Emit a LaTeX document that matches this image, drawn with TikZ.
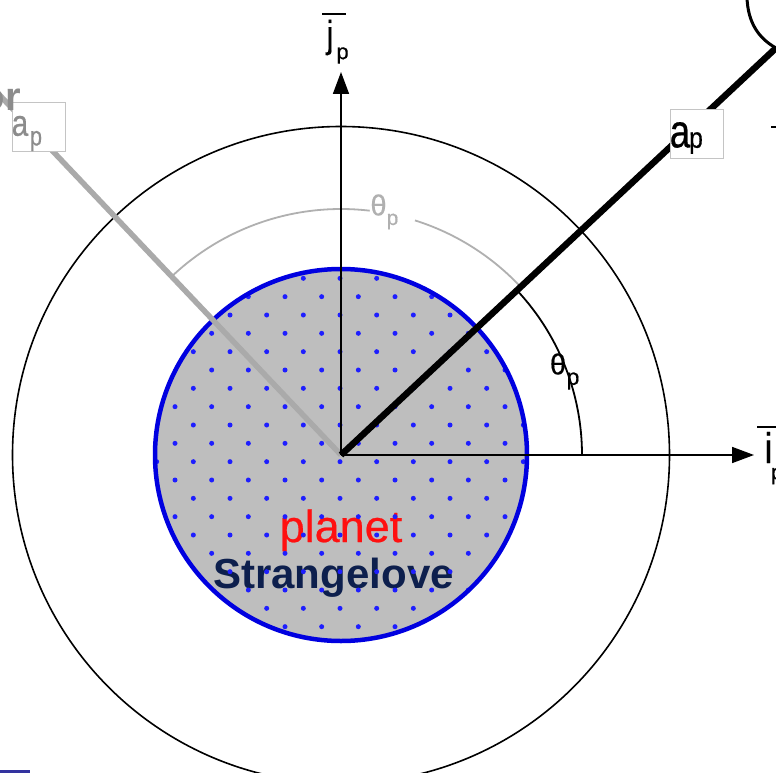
\documentclass[tikz,border=0pt]{standalone}
\usepackage{fontspec}
\setmainfont{Liberation Sans}
\newfontfamily\heavy{Liberation Sans}[FakeBold=0.5]
\usetikzlibrary{arrows.meta}
\definecolor{planetgray}{HTML}{BEBEBE}
\definecolor{dotblue}{HTML}{1E1EFF}
\definecolor{rimblue}{HTML}{0000E0}
\definecolor{planetred}{HTML}{FF1010}
\definecolor{navy}{HTML}{0D1F4D}
\definecolor{lightline}{HTML}{AAAAAA}
\definecolor{arcgray}{HTML}{B0B0B0}
\definecolor{boxgray}{HTML}{C4C4C4}
\definecolor{labelgray}{HTML}{8C8C8C}
\definecolor{barblue}{HTML}{33339F}
\newcommand\fs[1]{\fontsize{#1}{#1}\selectfont}
\begin{document}
\begin{tikzpicture}[x=1pt,y=-1pt,
  glyph/.style={inner sep=0pt, outer sep=0pt, anchor=center},
  labelbox/.style={draw=boxgray, fill=white, line width=0.8pt, minimum width=53pt, minimum height=49pt, inner sep=0pt},
  axisline/.style={line width=1.7pt, -{Triangle[length=22pt,width=16pt]}},
  thinbar/.style={line width=1.8pt}]
\useasboundingbox (0,0) rectangle (776,773);
\clip (0,0) rectangle (776,773);
\fill[white] (0,0) rectangle (776,773);
\coordinate (O) at (341,455);
% outer orbit
\draw[line width=1.6pt] (O) circle (328.5pt);
% planet body
\fill[planetgray] (O) circle (186pt);
\node[anchor=base, inner sep=0pt, text=planetred, font=\heavy\fs{45}] (planet) at (341,542) {planet};
\node[anchor=base, inner sep=0pt, text=navy, font=\fs{42}\bfseries] (strange) at (333.5,588) {Strangelove};
\begin{scope}
  \clip (O) circle (185pt);
  \foreach \m in {-6,...,6}{\foreach \n in {-6,...,6}{
    \fill[dotblue] ({340+36.667*\m},{461.667+36.667*\n}) circle (2.5pt);
    \fill[dotblue] ({358.333+36.667*\m},{480+36.667*\n}) circle (2.5pt);
  }}
\end{scope}
\draw[rimblue, line width=4.5pt] (O) circle (186pt);
% angle arcs
\draw[arcgray, line width=1.8pt] (O) ++(-43:246) arc[start angle=-43, end angle=-72.5, radius=246];
\draw[arcgray, line width=1.8pt] (O) ++(-83.3:246) arc[start angle=-83.3, end angle=-134, radius=246];
\draw[line width=1.8pt] (O) ++(0:241) arc[start angle=0, end angle=-43, radius=241];
% gray radius line
\coordinate (grayend) at (-10,85);
\draw[lightline, line width=5.5pt] (O) -- (grayend);
% axes
\coordinate (jtip) at (341,72);
\coordinate (itip) at (754,455);
\draw[axisline] (O) -- (jtip);
\draw[axisline] (O) -- (itip);
% black radius line and body outline
\coordinate (blackend) at (776,48);
\draw[line width=6.5pt] (O) -- (blackend);
\draw[line width=3pt] (747,-2) .. controls (748,22) and (758,38) .. (blackend);
\coordinate (dashA) at (771,127);
\coordinate (dashB) at (778,127);
\draw[line width=2.6pt] (dashA) -- (dashB);
% label boxes
\node[labelbox] (graybox) at (39,126.5) {};
\node[glyph, text=labelgray, font=\heavy\fs{37}, xscale=0.8] (graya) at (20,126) {a};
\node[glyph, text=labelgray, font=\heavy\fs{27}, xscale=0.8] (grayp) at (36,141) {p};
\node[anchor=base east, inner sep=0pt, text=labelgray, font=\fs{40}\bfseries] (grayor) at (21,111) {or};
\node[labelbox] (blackbox) at (696.5,133.5) {};
\node[glyph, font=\heavy\fs{47}, xscale=0.78] (blacka) at (680,135) {a};
\node[glyph, font=\heavy\fs{29}, xscale=0.85] (blackp) at (696,143) {p};
% angle labels
\node[glyph, font=\heavy\fs{29}] (thb) at (558,364) {θ};
\node[glyph, font=\heavy\fs{23}] (thbp) at (573,381) {p};
\node[glyph, text=arcgray, font=\heavy\fs{29}] (thg) at (378.5,205) {θ};
\node[glyph, text=arcgray, font=\heavy\fs{21}] (thgp) at (392.5,221.5) {p};
% axis labels
\node[glyph, font=\heavy\fs{38}, xscale=0.85] (jlab) at (330,37.5) {j};
\node[glyph, font=\heavy\fs{22}] (jp) at (342.5,55.5) {p};
\coordinate (jbarA) at (322,14);
\coordinate (jbarB) at (346,14);
\draw[thinbar] (jbarA) -- (jbarB);
\node[glyph, font=\heavy\fs{43}, xscale=0.85] (ilab) at (768.5,447.5) {i};
\node[glyph, font=\heavy\fs{22}] (ip) at (777,476) {p};
\coordinate (ibarA) at (757,427);
\coordinate (ibarB) at (778,427);
\draw[thinbar] (ibarA) -- (ibarB);
% bottom-left fragment
\coordinate (barA) at (0,771.5);
\coordinate (barB) at (30,771.5);
\draw[barblue, line width=3pt] (barA) -- (barB);
\end{tikzpicture}
\end{document}
